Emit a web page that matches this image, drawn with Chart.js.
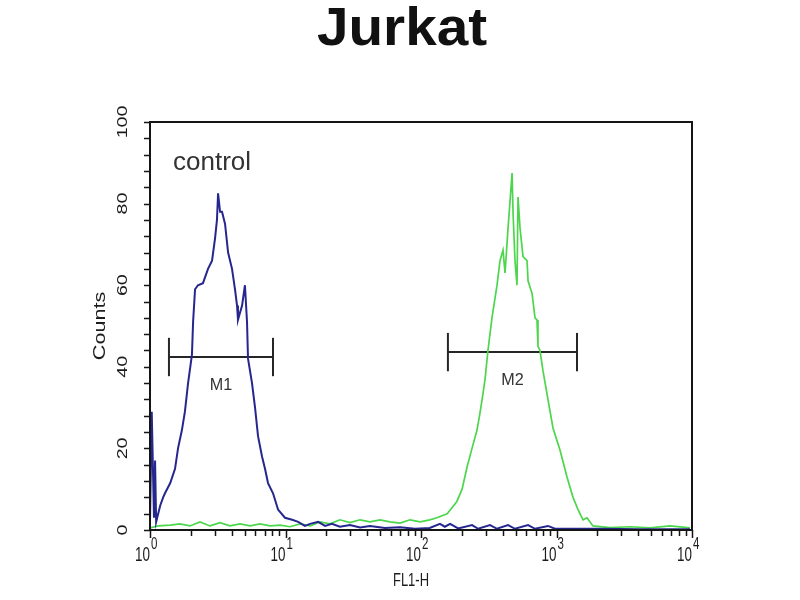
<!DOCTYPE html>
<html>
<head>
<meta charset="utf-8">
<script src="https://cdn.jsdelivr.net/npm/chart.js@4/dist/chart.umd.min.js"></script>
<style>
	body { margin: 0; background: #fff; }
	canvas { display: block; }
</style>
</head>
<body>
<canvas id="histcanvas" width="800" height="600"></canvas>
<script>
// control (blue) histogram, FL1-H channel values and counts
var blueX = [1.00,1.03,1.07,1.09,1.11,1.19,1.25,1.29,1.41,1.53,1.61,1.72,1.81,1.91,2.04,2.08,2.15,2.26,2.46,2.68,2.87,3.02,3.12,3.18,3.29,3.40,3.58,3.77,4.03,4.24,4.39,4.46,4.78,5.02,5.20,5.29,5.66,5.96,6.27,6.71,7.06,7.43,8.09,8.81,9.91,11.2,12.4,13.9,15.2,17.4,19.6,22.0,25.2,29.9,35.5,42.0,54.2,70.0,90.3,116,138,150,164,188,238,264,323,364,439,494,617,694,865,974,2094,4130,9660];
var blueY = [2,29,3,17,2,6,8,9,11.5,15,20,24.5,29,36,43,51,59,60,60.5,64,66,71.5,76,82.5,78,78,75,68,64,59,55,51.5,55,60,51,42,36,30,23,18,15,11.5,9,5,3,2.5,2,1,1.5,2,1,1.5,0.8,1.2,0.6,1,0.5,0.7,0.3,0.5,1.5,0.8,1.5,0.4,1.2,0.3,1.2,0.3,1.2,0.3,1.2,0.3,1,0.3,0.3,0.2,0.2];

// stained (green) histogram
var greenX = [1.00,1.15,1.41,1.66,1.97,2.34,2.77,3.29,3.89,4.62,5.47,6.49,7.69,9.11,10.8,12.8,15.2,18.0,21.3,25.2,29.9,35.5,42.0,49.8,59.0,70.0,83.0,98.4,116,131,156,184,201,219,238,259,272,287,297,312,334,364,383,403,417,439,470,478,494,511,520,538,566,606,617,660,694,718,730,755,795,865,942,1061,1195,1324,1442,1570,1680,1858,2480,3485,4898,6883,9660];
var greenY = [0.5,1,1.2,1.5,1,2,1,1.8,1,1.5,1,1.5,1,1.2,0.8,1.5,1,2,1.5,2.5,1.8,2.5,2,2.5,2,1.7,2.5,2,2.5,3,4,7,10,15.5,20,24.5,28.5,33.5,37,44,52,60,66,68.6,63,74,87.5,77.7,66,60,81.6,74,67,66,61,58,52,51.5,45,44,39,32,25,19.6,13,8,5,2.5,3,1,0.6,0.8,0.5,1,0.5];

// gate markers
var markerNames = ["M1", "M2"];
var markerFrom = [1.38, 158];
var markerTo = [8.09, 1417];
var markerLevel = [42.4, 43.6];
var markerHalf = 4.7;

var yTicks = [0, 20, 40, 60, 80, 100];
var xDecades = [0, 1, 2, 3, 4];

function toPoints(xs, ys) {
	var pts = [];
	for (var i = 0; i < xs.length; i++) pts.push({x: xs[i], y: ys[i]});
	return pts;
}

var datasets = [
	{ label: "control", data: toPoints(blueX, blueY), borderColor: "#26268f", borderWidth: 2 },
	{ label: "Jurkat", data: toPoints(greenX, greenY), borderColor: "#4cd64c", borderWidth: 1.7 }
];
for (var m = 0; m < markerNames.length; m++) {
	var lv = markerLevel[m];
	datasets.push({ label: markerNames[m], data: [{x: markerFrom[m], y: lv}, {x: markerTo[m], y: lv}], borderColor: "#262626", borderWidth: 2 });
	datasets.push({ label: markerNames[m] + "a", data: [{x: markerFrom[m], y: lv - markerHalf}, {x: markerFrom[m], y: lv + markerHalf}], borderColor: "#262626", borderWidth: 2 });
	datasets.push({ label: markerNames[m] + "b", data: [{x: markerTo[m], y: lv - markerHalf}, {x: markerTo[m], y: lv + markerHalf}], borderColor: "#262626", borderWidth: 2 });
}

function stretchText(ctx, str, x, y, sx, angle) {
	ctx.save();
	ctx.translate(x, y);
	if (angle) ctx.rotate(angle);
	ctx.scale(sx, 1);
	ctx.fillText(str, 0, 0);
	ctx.restore();
}

var decorPlugin = {
	id: "decor",
	afterDraw: function(chart) {
		var ctx = chart.ctx, a = chart.chartArea;
		var xs = chart.scales.x, ys = chart.scales.y;
		ctx.save();

		// title
		ctx.fillStyle = "#111";
		ctx.font = "bold 54px 'Liberation Sans'";
		ctx.textAlign = "center";
		ctx.textBaseline = "alphabetic";
		stretchText(ctx, "Jurkat", 402, 45, 1.05);

		// frame
		ctx.strokeStyle = "#151515";
		ctx.lineWidth = 2;
		ctx.strokeRect(a.left, a.top, a.right - a.left, a.bottom - a.top);

		// y ticks
		ctx.lineWidth = 1.5;
		ctx.beginPath();
		for (var v = 0; v <= 100; v += 4) {
			var py = Math.round(ys.getPixelForValue(v)) + 0.5;
			ctx.moveTo(a.left, py);
			ctx.lineTo(a.left - 6, py);
		}
		// x ticks (log)
		for (var d = 0; d < 4; d++) {
			for (var k = 1; k < 10; k++) {
				var px = Math.round(xs.getPixelForValue(k * Math.pow(10, d))) + 0.5;
				ctx.moveTo(px, a.bottom);
				ctx.lineTo(px, a.bottom + (k === 1 ? 8 : 6));
			}
		}
		var pe = Math.round(xs.getPixelForValue(10000)) + 0.5;
		ctx.moveTo(pe, a.bottom);
		ctx.lineTo(pe, a.bottom + 8);
		ctx.stroke();

		// y labels (rotated)
		ctx.fillStyle = "#1c1c1c";
		ctx.font = "14px 'Liberation Sans'";
		ctx.textAlign = "center";
		ctx.textBaseline = "middle";
		yTicks.forEach(function(t) {
			stretchText(ctx, String(t), 123, ys.getPixelForValue(t), 1.4, -Math.PI / 2);
		});
		ctx.font = "16px 'Liberation Sans'";
		stretchText(ctx, "Counts", 101, 326, 1.35, -Math.PI / 2);

		// x labels 10^n
		ctx.textBaseline = "alphabetic";
		xDecades.forEach(function(n) {
			var px = xs.getPixelForValue(Math.pow(10, n));
			ctx.font = "21px 'Liberation Sans'";
			ctx.textAlign = "right";
			stretchText(ctx, "10", px, 561, 0.64);
			ctx.font = "16px 'Liberation Sans'";
			ctx.textAlign = "left";
			stretchText(ctx, String(n), px + 1, 549, 0.72);
		});
		ctx.font = "18px 'Liberation Sans'";
		ctx.textAlign = "center";
		stretchText(ctx, "FL1-H", 411, 586, 0.72);

		// gate names and control text
		ctx.fillStyle = "#333";
		ctx.font = "17px 'Liberation Sans'";
		for (var m = 0; m < markerNames.length; m++) {
			var cx = xs.getPixelForValue(Math.sqrt(markerFrom[m] * markerTo[m]));
			stretchText(ctx, markerNames[m], cx, ys.getPixelForValue(markerLevel[m]) + 33, 0.95);
		}
		ctx.font = "26px 'Liberation Sans'";
		ctx.textAlign = "left";
		stretchText(ctx, "control", a.left + 23, 170, 1);

		ctx.restore();
	}
};

var ctx = document.getElementById("histcanvas").getContext("2d");
window.myHist = new Chart(ctx, {
	type: 'line',
	data: { datasets: datasets },
	options: {
		responsive: false,
		animation: false,
		layout: { padding: { left: 150, right: 108, top: 122, bottom: 70 } },
		elements: {
			point: { radius: 0, hoverRadius: 0 },
			line: { tension: 0, fill: false }
		},
		scales: {
			x: { type: 'logarithmic', min: 1, max: 10000, display: false },
			y: { type: 'linear', min: 0, max: 100, display: false }
		},
		plugins: {
			legend: { display: false },
			tooltip: { enabled: false },
			title: { display: false }
		}
	},
	plugins: [decorPlugin]
});
</script>
</body>
</html>
